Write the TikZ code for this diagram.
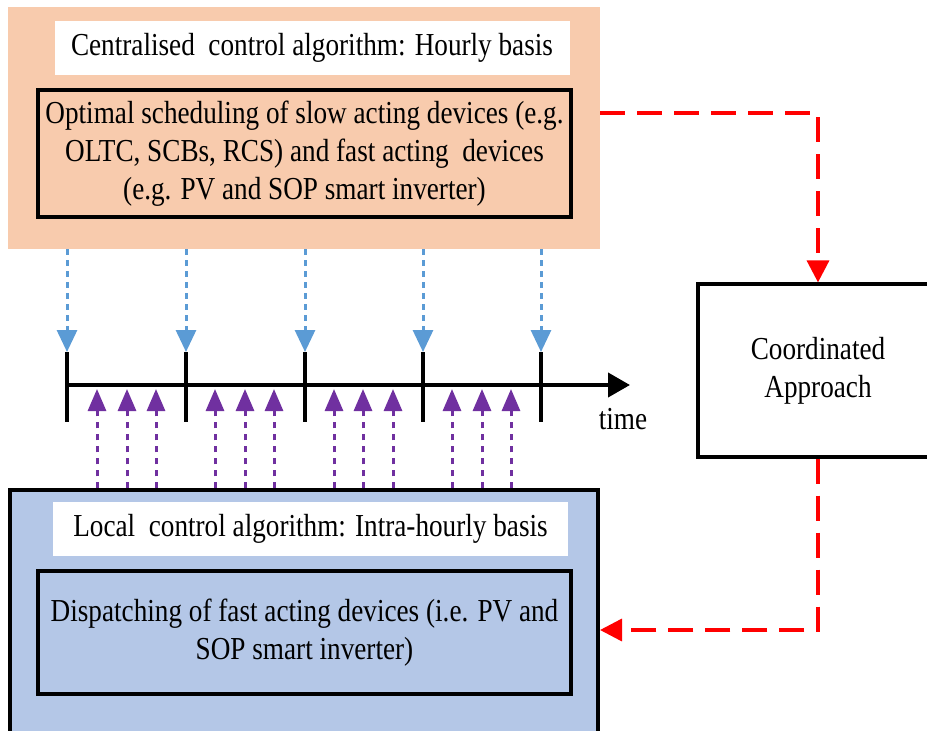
\documentclass[tikz,border=0pt]{standalone}
\usepackage{fontspec}
\setmainfont{Liberation Serif}[FakeStretch=0.85]
\usetikzlibrary{arrows.meta}

\definecolor{orangebg}{RGB}{248,203,173}
\definecolor{bluebg}{RGB}{180,199,231}
\definecolor{hourblue}{RGB}{91,155,213}
\definecolor{intrapurple}{RGB}{112,48,160}

\begin{document}
\begin{tikzpicture}[x=1pt, y=-1pt,
    txt/.style={font=\fontsize{32}{38}\selectfont, align=center, inner sep=0pt},
    panel/.style={minimum width=#1, inner sep=0pt},
    titlebox/.style={txt, fill=white, minimum width=515, minimum height=54},
    taskbox/.style={txt, draw, line width=3.2pt, minimum width=533},
    hourarrow/.style={hourblue, line width=3pt, dash pattern=on 6pt off 5pt, -{Triangle[length=22pt, width=20pt]}},
    intraarrow/.style={intrapurple, line width=3pt, dash pattern=on 6pt off 6pt, -{Triangle[length=22pt, width=18pt]}},
    tickline/.style={line width=3.5pt},
    linkarrow/.style={red, line width=3.5pt, dash pattern=on 25pt off 12pt, -{Triangle[length=22pt, width=22pt]}}]
    \useasboundingbox (0,0) rectangle (927,731);

    % top: centralised control
    \node[panel=592, fill=orangebg, minimum height=242] (central) at (304,128) {};
    \node[titlebox] (centraltitle) at (312,47.5) {Centralised\ \ control algorithm: Hourly basis};
    \node[taskbox, minimum height=127] (centralbox) at (304.5,153.5)
        {Optimal scheduling of slow acting devices (e.g.\\ OLTC, SCBs, RCS) and fast acting\ \ devices\\ (e.g. PV and SOP smart inverter)};

    % bottom: local control
    \node[panel=588, fill=bluebg, draw, line width=3.2pt, minimum height=270] (local) at (304,625) {};
    \node[titlebox] (localtitle) at (310.5,528.5) {Local\ \ control algorithm: Intra-hourly basis};
    \node[taskbox, minimum height=123] (localbox) at (304.5,632.5)
        {Dispatching of fast acting devices (i.e. PV and\\ SOP smart inverter)};

    % right: coordination
    \node[txt, draw, line width=3.2pt, fill=white, minimum width=240, minimum height=173] (coord) at (818,370.5)
        {Coordinated\\ Approach};

    % time axis
    \coordinate (t0) at (67,385);
    \coordinate (t1) at (630,385);
    \draw[line width=4pt, -{Triangle[length=22pt, width=24pt]}] (t0) -- (t1);
    \node[txt] (time) at (623,419) {time};

    % hourly instants
    \coordinate (h1) at (67,352);
    \coordinate (h2) at (186,352);
    \coordinate (h3) at (305,352);
    \coordinate (h4) at (423,352);
    \coordinate (h5) at (541,352);
    \draw[tickline] (h1) -- ++(0,70);
    \draw[tickline] (h2) -- ++(0,70);
    \draw[tickline] (h3) -- ++(0,70);
    \draw[tickline] (h4) -- ++(0,70);
    \draw[tickline] (h5) -- ++(0,70);
    \draw[hourarrow] (h1 |- central.south) -- (h1);
    \draw[hourarrow] (h2 |- central.south) -- (h2);
    \draw[hourarrow] (h3 |- central.south) -- (h3);
    \draw[hourarrow] (h4 |- central.south) -- (h4);
    \draw[hourarrow] (h5 |- central.south) -- (h5);

    % intra-hourly instants
    \coordinate (p1) at (97,389);
    \coordinate (p2) at (127,389);
    \coordinate (p3) at (156,389);
    \coordinate (p4) at (215,389);
    \coordinate (p5) at (245,389);
    \coordinate (p6) at (274,389);
    \coordinate (p7) at (334,389);
    \coordinate (p8) at (363,389);
    \coordinate (p9) at (393,389);
    \coordinate (p10) at (452,389);
    \coordinate (p11) at (482,389);
    \coordinate (p12) at (511,389);
    \draw[intraarrow] (p1 |- local.north) -- (p1);
    \draw[intraarrow] (p2 |- local.north) -- (p2);
    \draw[intraarrow] (p3 |- local.north) -- (p3);
    \draw[intraarrow] (p4 |- local.north) -- (p4);
    \draw[intraarrow] (p5 |- local.north) -- (p5);
    \draw[intraarrow] (p6 |- local.north) -- (p6);
    \draw[intraarrow] (p7 |- local.north) -- (p7);
    \draw[intraarrow] (p8 |- local.north) -- (p8);
    \draw[intraarrow] (p9 |- local.north) -- (p9);
    \draw[intraarrow] (p10 |- local.north) -- (p10);
    \draw[intraarrow] (p11 |- local.north) -- (p11);
    \draw[intraarrow] (p12 |- local.north) -- (p12);

    % coordination links
    \coordinate (r1) at (600,113);
    \coordinate (r2) at (600,630);
    \draw[linkarrow] (r1) -| (coord.north);
    \draw[linkarrow] (coord.south) |- (r2);
\end{tikzpicture}
\end{document}
